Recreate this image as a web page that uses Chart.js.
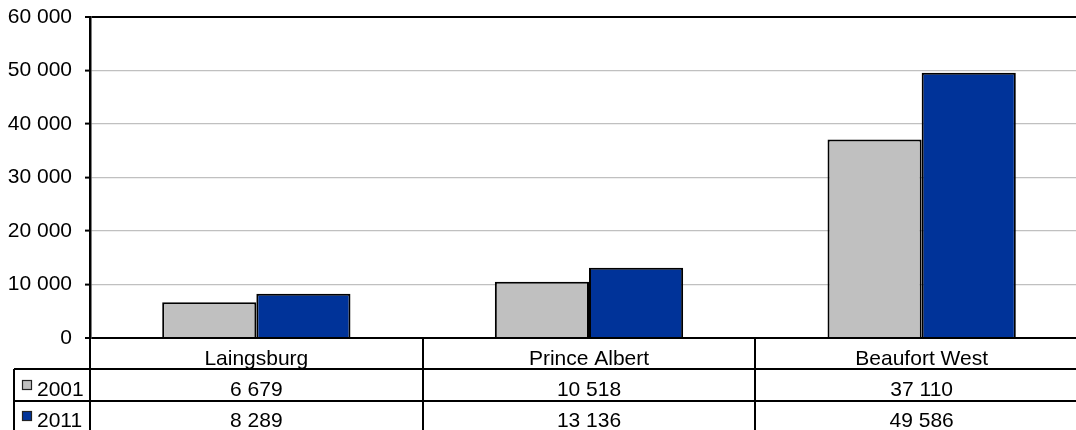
<!DOCTYPE html>
<html lang="en">
  <head>
    <meta charset="UTF-8" />
    <title>Population 2001 / 2011</title>
    <script src="https://cdn.jsdelivr.net/npm/chart.js"></script>
    <style>
      html,
      body {
        margin: 0;
        padding: 0;
        overflow: hidden;
        background: #fff;
      }
      canvas {
        display: block;
      }
    </style>
  </head>
  <body>
    <canvas id="pop-chart" width="1088" height="430"></canvas>

    <script>
      const categories = ["Laingsburg", "Prince Albert", "Beaufort West"];
      const seriesNames = ["2001", "2011"];
      const values2001 = [6679, 10518, 37110];
      const values2011 = [8289, 13136, 49586];
      const seriesColors = ["#c0c0c0", "#003399"];

      const FONT = '21px "Liberation Sans", Arial, sans-serif';

      // thousands separated by a space, e.g. 37 110
      function fmt(v) {
        return String(v).replace(/\B(?=(\d{3})+(?!\d))/g, " ");
      }

      // data table under the plot: category row + one row per series
      const tablePlugin = {
        id: "dataTable",
        afterDraw(chart) {
          const ctx = chart.ctx;
          const area = chart.chartArea;
          const xs = chart.scales.x;
          const catW = (area.right - area.left) / categories.length;
          const rowTop = area.bottom;
          const rowH = [31, 32, 31];
          const lines = [rowTop + rowH[0], rowTop + rowH[0] + rowH[1]];
          const legendLeft = 14;

          ctx.save();
          ctx.strokeStyle = "#000";

          // y axis carried down through the table
          ctx.lineWidth = 2;
          ctx.beginPath();
          ctx.moveTo(area.left, rowTop);
          ctx.lineTo(area.left, chart.height);
          ctx.stroke();

          // category separators
          for (let k = 1; k < categories.length; k++) {
            const x = Math.round(area.left + k * catW);
            ctx.beginPath();
            ctx.moveTo(x, rowTop);
            ctx.lineTo(x, chart.height);
            ctx.stroke();
          }

          // row lines
          lines.forEach((y) => {
            ctx.beginPath();
            ctx.moveTo(legendLeft, y);
            ctx.lineTo(chart.width, y);
            ctx.stroke();
          });

          // legend column left edge
          ctx.beginPath();
          ctx.moveTo(legendLeft, lines[0]);
          ctx.lineTo(legendLeft, chart.height);
          ctx.stroke();

          ctx.font = FONT;
          ctx.fillStyle = "#000";
          ctx.textBaseline = "alphabetic";
          ctx.textAlign = "center";

          const baselines = [rowTop + 27, rowTop + 58, rowTop + 89];
          categories.forEach((c, i) => {
            const cx = xs.getPixelForValue(i);
            ctx.fillText(c, cx, baselines[0]);
            ctx.fillText(fmt(values2001[i]), cx, baselines[1]);
            ctx.fillText(fmt(values2011[i]), cx, baselines[2]);
          });

          // legend keys
          ctx.textAlign = "left";
          seriesNames.forEach((name, s) => {
            const y = baselines[s + 1];
            ctx.fillStyle = seriesColors[s];
            ctx.fillRect(22.5, y - 15.5, 9, 9);
            ctx.lineWidth = 1.2;
            ctx.strokeStyle = "#222";
            ctx.strokeRect(22.5, y - 15.5, 9, 9);
            ctx.fillStyle = "#000";
            ctx.fillText(name, 37, y);
          });

          ctx.restore();
        },
      };

      const chartCtx = document.getElementById("pop-chart").getContext("2d");
      new Chart(chartCtx, {
        type: "bar",
        data: {
          labels: categories,
          datasets: [
            {
              label: seriesNames[0],
              data: values2001,
              backgroundColor: seriesColors[0],
              borderColor: "#000",
              borderWidth: 2,
              borderSkipped: "bottom",
            },
            {
              label: seriesNames[1],
              data: values2011,
              backgroundColor: seriesColors[1],
              borderColor: "#000",
              borderWidth: 2,
              borderSkipped: "bottom",
            },
          ],
        },
        options: {
          responsive: false,
          animation: false,
          devicePixelRatio: 1,
          layout: { padding: { top: 17, bottom: 92, left: 0, right: 0 } },
          plugins: {
            legend: { display: false },
            tooltip: { enabled: false },
          },
          datasets: {
            bar: { barPercentage: 1, categoryPercentage: 0.566 },
          },
          scales: {
            x: {
              display: false,
            },
            y: {
              min: 0,
              max: 60000,
              afterFit(scale) {
                scale.width = 90;
                scale.paddingTop = 0;
                scale.paddingBottom = 0;
              },
              border: { display: true, color: "#000", width: 2.5 },
              grid: {
                color: (c) =>
                  c.tick && (c.tick.value === 0 || c.tick.value === 60000)
                    ? "#000"
                    : "#c0c0c0",
                lineWidth: (c) =>
                  c.tick && (c.tick.value === 0 || c.tick.value === 60000)
                    ? 2
                    : 1.2,
                tickLength: 5,
                tickColor: "#000",
                tickWidth: 2,
              },
              ticks: {
                stepSize: 10000,
                padding: 13,
                color: "#000",
                font: { family: '"Liberation Sans", Arial, sans-serif', size: 21 },
                callback: (v) => fmt(v),
              },
            },
          },
        },
        plugins: [tablePlugin],
      });
    </script>
  </body>
</html>
